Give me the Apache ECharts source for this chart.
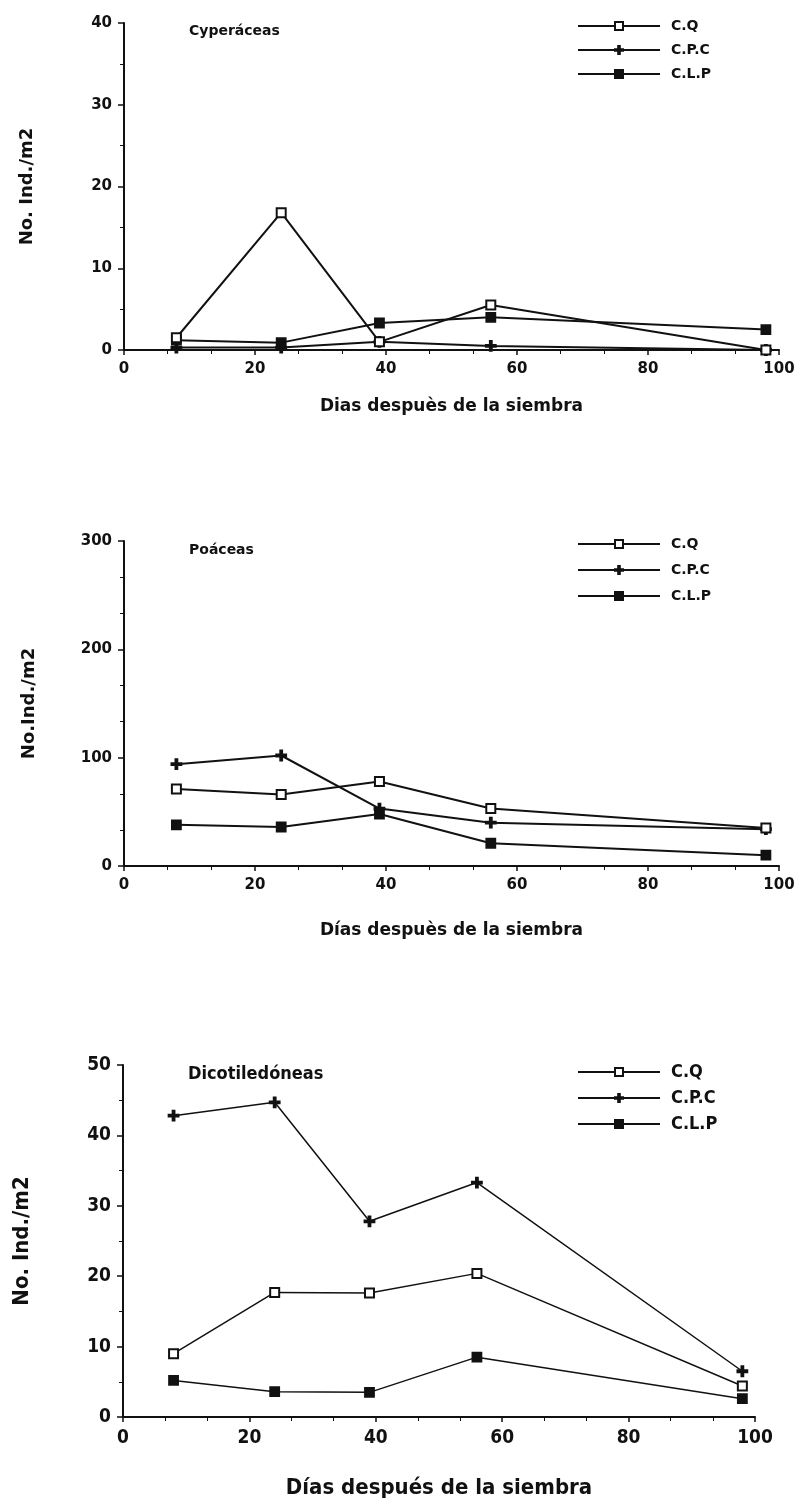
<!DOCTYPE html>
<html>
<head>
<meta charset="utf-8">
<script src="https://cdn.jsdelivr.net/npm/echarts@6/dist/echarts.min.js"></script>
<style>
  html, body { margin: 0; padding: 0; background: #fff; }
  #chart { width: 803px; height: 1504px; }
</style>
</head>
<body>
<div id="chart"></div>
<script>
// días después de la siembra (same sampling days in all three panels)
const days = [8, 24, 39, 56, 98];
const seriesNames = ["C.Q", "C.P.C", "C.L.P"];
const xTicks = [0, 20, 40, 60, 80, 100];

// Cyperáceas
const cypCQ = [1.5, 16.8, 1.0, 5.5, 0];
const cypCPC = [0.3, 0.3, 1.0, 0.5, 0];
const cypCLP = [1.2, 0.9, 3.3, 4.0, 2.5];

// Poáceas
const poaCQ = [71, 66, 78, 53, 35];
const poaCPC = [94, 102, 53, 40, 34];
const poaCLP = [38, 36, 48, 21, 10];

// Dicotiledóneas
const dicCQ = [9.0, 17.7, 17.6, 20.4, 4.4];
const dicCPC = [42.8, 44.7, 27.8, 33.3, 6.5];
const dicCLP = [5.2, 3.6, 3.5, 8.5, 2.6];

(function () {
  const FONT = "'DejaVu Sans', sans-serif";
  const NARROW = "'DejaVu Sans Condensed', 'Liberation Sans Narrow', 'DejaVu Sans', sans-serif";
  const PLUS = "path://M4,0 L6,0 L6,4 L10,4 L10,6 L6,6 L6,10 L4,10 L4,6 L0,6 L0,4 L4,4 Z";

  // panel layout (pixels)
  const panels = [
    { title: "Cyperáceas", xName: "Dias despuès de la siembra", yName: "No. Ind./m2",
      grid: { left: 124, right: 24, top: 23, height: 327 }, max: 40, interval: 10, minorSplit: 2,
      data: [cypCQ, cypCPC, cypCLP], font: FONT, fs: 14, titleFs: 14, xNameFs: 17, yNameFs: 18,
      titleTop: 19, xGap: 48, yGap: 88, legendTop: 14, legendGap: 10, lineW: 2 },
    { title: "Poáceas", xName: "Días despuès de la siembra", yName: "No.Ind./m2",
      grid: { left: 124, right: 24, top: 541, height: 325 }, max: 300, interval: 100, minorSplit: 3,
      data: [poaCQ, poaCPC, poaCLP], font: FONT, fs: 14, titleFs: 14, xNameFs: 17, yNameFs: 18,
      titleTop: 538, xGap: 56, yGap: 86, legendTop: 532, legendGap: 12, lineW: 2 },
    { title: "Dicotiledóneas", xName: "Días después de la siembra", yName: "No. Ind./m2",
      grid: { left: 123, right: 48, top: 1065, height: 352 }, max: 50, interval: 10, minorSplit: 2,
      data: [dicCQ, dicCPC, dicCLP], font: NARROW, fs: 18, titleFs: 18, xNameFs: 22, yNameFs: 22,
      titleTop: 1060, xGap: 60, yGap: 90, legendTop: 1058, legendGap: 8, lineW: 1.5 }
  ];

  const symbols = ["emptyRect", PLUS, "rect"];

  function pairs(values) {
    return days.map((d, i) => [d, values[i]]);
  }

  function buildOption() {
    const option = {
      animation: false,
      backgroundColor: "#fff",
      title: [], legend: [], grid: [], xAxis: [], yAxis: [], series: []
    };
    const black = "#111";

    panels.forEach((p, k) => {
      option.grid.push(p.grid);
      option.title.push({
        text: p.title,
        left: p.grid.left + 60,
        top: p.titleTop,
        textStyle: { fontFamily: p.font, fontWeight: "bold", fontSize: p.titleFs, color: black }
      });
      option.legend.push({
        orient: "vertical",
        left: 572,
        top: p.legendTop,
        itemWidth: 82,
        itemHeight: 10,
        itemGap: p.legendGap,
        data: seriesNames.map(n => n + " ".repeat(k)), // unique names per panel
        formatter: name => name.trim(),
        textStyle: { fontFamily: p.font, fontWeight: "bold", fontSize: p.fs, color: black, padding: [0, 0, 0, 6] }
      });
      option.xAxis.push({
        type: "value",
        gridIndex: k,
        min: 0, max: 100, interval: 20,
        name: p.xName,
        nameLocation: "middle",
        nameGap: p.xGap,
        nameTextStyle: { fontFamily: p.font, fontWeight: "bold", fontSize: p.xNameFs, color: black },
        axisLine: { lineStyle: { color: black, width: 2 } },
        axisTick: { show: true, length: 5, inside: false, lineStyle: { color: black, width: 1.5 } },
        minorTick: { show: true, splitNumber: 3, length: 4, lineStyle: { color: black } },
        axisLabel: { fontFamily: p.font, fontWeight: "bold", fontSize: p.fs + 1, color: black, margin: 12,
          formatter: v => (xTicks.indexOf(v) >= 0 ? String(v) : "") },
        splitLine: { show: false }
      });
      option.yAxis.push({
        type: "value",
        gridIndex: k,
        min: 0, max: p.max, interval: p.interval,
        name: p.yName,
        nameLocation: "middle",
        nameGap: p.yGap,
        nameRotate: 90,
        nameTextStyle: { fontFamily: p.font, fontWeight: "bold", fontSize: p.yNameFs, color: black },
        axisLine: { show: true, lineStyle: { color: black, width: 2 } },
        axisTick: { show: true, length: 6, lineStyle: { color: black, width: 1.5 } },
        minorTick: { show: true, splitNumber: p.minorSplit, length: 4, lineStyle: { color: black } },
        axisLabel: { fontFamily: p.font, fontWeight: "bold", fontSize: p.fs + 1, color: black, margin: 12 },
        splitLine: { show: false }
      });
      p.data.forEach((vals, s) => {
        option.series.push({
          name: seriesNames[s] + " ".repeat(k),
          type: "line",
          xAxisIndex: k,
          yAxisIndex: k,
          data: pairs(vals),
          symbol: symbols[s],
          symbolSize: s === 1 ? 10 : 9,
          lineStyle: { color: black, width: p.lineW },
          itemStyle: { color: black, borderColor: black, borderWidth: 1.8 },
          z: 3 - s
        });
      });
    });
    return option;
  }

  const chart = echarts.init(document.getElementById("chart"), null, { renderer: "canvas" });
  chart.setOption(buildOption());
})();
</script>
</body>
</html>
